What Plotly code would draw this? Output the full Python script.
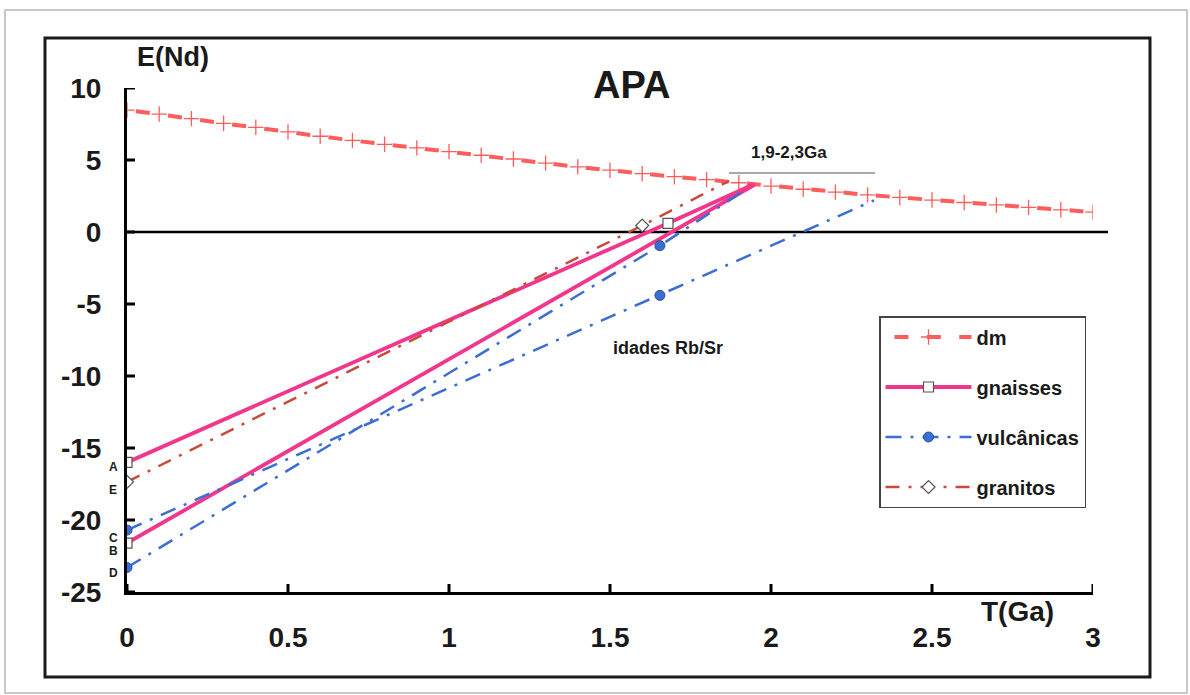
import plotly.graph_objects as go

W, H = 1190, 695

# ---------------- data ----------------
T_dm = [0.0, 0.1, 0.2, 0.3, 0.4, 0.5, 0.6, 0.7, 0.8, 0.9, 1.0, 1.1, 1.2, 1.3, 1.4, 1.5,
        1.6, 1.7, 1.8, 1.9, 2.0, 2.1, 2.2, 2.3, 2.4, 2.5, 2.6, 2.7, 2.8, 2.9, 3.0]
E_dm = [8.47, 8.19, 7.87, 7.55, 7.27, 6.95, 6.65, 6.36, 6.09, 5.84, 5.58, 5.33, 5.07, 4.78,
        4.52, 4.29, 4.05, 3.84, 3.64, 3.42, 3.19, 2.97, 2.77, 2.58, 2.40, 2.22, 2.05, 1.88,
        1.71, 1.54, 1.38]

# gnaisses (A and B)
T_gn_A = [0.0, 1.68, 1.945]
E_gn_A = [-16.0, 0.6, 3.3]
T_gn_B = [0.0, 1.95]
E_gn_B = [-21.6, 3.3]

# vulcanicas (C and D)
T_vu_C = [0.0, 1.655, 2.32]
E_vu_C = [-20.7, -4.4, 2.2]
T_vu_D = [0.0, 1.655, 1.915]
E_vu_D = [-23.3, -0.95, 2.85]

# granitos (E)
T_gr_E = [0.0, 1.6, 1.87]
E_gr_E = [-17.35, 0.45, 3.55]

sample_letters = ["A", "E", "C", "B", "D"]
letter_pos = [-16.35, -17.95, -21.25, -22.15, -23.65]

x_ticks = [0, 0.5, 1, 1.5, 2, 2.5, 3]
x_tick_text = ["0", "0.5", "1", "1.5", "2", "2.5", "3"]
y_ticks = [10, 5, 0, -5, -10, -15, -20, -25]
y_tick_text = ["10", "5", "0", "-5", "-10", "-15", "-20", "-25"]

# ---------------- styles ----------------
FONT = "Liberation Sans, Arial, sans-serif"
C_DM = "#ff5c5c"
C_GN = "#f2368c"
C_VU = "#3a6ed2"
C_GR = "#c94a3c"
CLEAR = "rgba(0,0,0,0)"

X0, X1 = 127, 1093   # pixel positions of x=0 and x=3
Y0, Y1 = 592, 88     # pixel positions of y=-25 and y=10


def px(x):
    return x / W


def py(y):
    return (H - y) / H


fig = go.Figure()

# dm
fig.add_trace(go.Scatter(
    x=T_dm, y=E_dm, mode="lines+markers", name="<b>dm</b>", legendgroup="dm",
    line=dict(color=C_DM, width=4, dash="0px,9px,14px,9.38px"),
    marker=dict(symbol="cross-thin", size=11, line=dict(color=C_DM, width=1.3)),
))


def marked(n_marked, n_total, col):
    return [col] * n_marked + [CLEAR] * (n_total - n_marked)


# gnaisses
fig.add_trace(go.Scatter(
    x=T_gn_A, y=E_gn_A, mode="lines+markers", name="<b>gnaisses</b>", legendgroup="gn",
    line=dict(color=C_GN, width=3.8),
    marker=dict(symbol="square", size=10,
                color=marked(2, len(T_gn_A), "white"),
                line=dict(color=marked(2, len(T_gn_A), "#555555"), width=1.2)),
))
fig.add_trace(go.Scatter(
    x=T_gn_B, y=E_gn_B, mode="lines+markers", name="<b>gnaisses</b>", legendgroup="gn",
    showlegend=False,
    line=dict(color=C_GN, width=3.8),
    marker=dict(symbol="square", size=10,
                color=marked(1, len(T_gn_B), "white"),
                line=dict(color=marked(1, len(T_gn_B), "#555555"), width=1.2)),
))

# vulcanicas
VU_DASH = "16px,9px,3px,9px"
fig.add_trace(go.Scatter(
    x=T_vu_C, y=E_vu_C, mode="lines+markers", name="<b>vulcânicas</b>", legendgroup="vu",
    line=dict(color=C_VU, width=2.5, dash=VU_DASH),
    marker=dict(symbol="circle", size=10,
                color=marked(2, len(T_vu_C), C_VU),
                line=dict(color=marked(2, len(T_vu_C), "#284f9c"), width=1)),
))
fig.add_trace(go.Scatter(
    x=T_vu_D, y=E_vu_D, mode="lines+markers", name="<b>vulcânicas</b>", legendgroup="vu",
    showlegend=False,
    line=dict(color=C_VU, width=2.5, dash=VU_DASH),
    marker=dict(symbol="circle", size=10,
                color=marked(2, len(T_vu_D), C_VU),
                line=dict(color=marked(2, len(T_vu_D), "#284f9c"), width=1)),
))

# granitos
fig.add_trace(go.Scatter(
    x=T_gr_E, y=E_gr_E, mode="lines+markers", name="<b>granitos</b>", legendgroup="gr",
    line=dict(color=C_GR, width=2.5, dash="14px,9px,3px,9px"),
    marker=dict(symbol="diamond", size=10,
                color=marked(2, len(T_gr_E), "white"),
                line=dict(color=marked(2, len(T_gr_E), "#555555"), width=1.2)),
))

shapes = []
# zero line
shapes.append(dict(type="line", xref="paper", yref="y", x0=px(X0), x1=px(1108),
                   y0=0, y1=0, line=dict(color="black", width=2.5), layer="below"))
# crossing ticks on the y axis
for v in y_ticks:
    shapes.append(dict(type="line", xref="x", yref="y", xsizemode="pixel", xanchor=0,
                       x0=-8, x1=8, y0=v, y1=v, line=dict(color="black", width=3)))
# crossing ticks on the x axis
for v in x_ticks:
    shapes.append(dict(type="line", xref="x", yref="y", ysizemode="pixel", yanchor=-25,
                       y0=-8, y1=8, x0=v, x1=v, line=dict(color="black", width=3)))
# frames
shapes.append(dict(type="rect", xref="paper", yref="paper", x0=px(45), x1=px(1150),
                   y0=py(677), y1=py(38), line=dict(color="#1a1a1a", width=3)))
shapes.append(dict(type="rect", xref="paper", yref="paper", x0=px(5), x1=px(1187),
                   y0=py(693), y1=py(10), line=dict(color="#b8b8b8", width=1.5)))
# line under the 1,9-2,3Ga label
shapes.append(dict(type="line", xref="paper", yref="paper", x0=px(729), x1=px(875),
                   y0=py(173), y1=py(173), line=dict(color="#555555", width=1)))


def label(text, x, y, size):
    return dict(text="<b>%s</b>" % text, x=px(x), y=py(y), xref="paper", yref="paper",
                xanchor="center", yanchor="middle", showarrow=False,
                font=dict(size=size, color="#1a1a1a", family=FONT))


annotations = [
    label("APA", 631, 85, 38),
    label("E(Nd)", 173, 57, 27),
    label("T(Ga)", 1017, 611, 28),
    label("1,9-2,3Ga", 789, 152, 17),
    label("idades Rb/Sr", 668, 348, 18),
]
for lab, yv in zip(sample_letters, letter_pos):
    annotations.append(dict(text="<b>" + lab + "</b>", x=0, y=yv, xref="x", yref="y",
                            xshift=-14, xanchor="center", yanchor="middle", showarrow=False,
                            font=dict(size=12, color="#1a1a1a", family=FONT)))

fig.update_layout(
    width=W, height=H,
    margin=dict(l=0, r=0, t=0, b=0),
    paper_bgcolor="white", plot_bgcolor="white",
    font=dict(family=FONT, color="#1a1a1a"),
    xaxis=dict(domain=[px(X0), px(X1)], range=[0, 3], tickvals=x_ticks,
               ticktext=["<b>%s</b>" % t for t in x_tick_text],
               showgrid=False, zeroline=False, showline=True, linecolor="black",
               linewidth=3, ticks="", ticklabelstandoff=18,
               tickfont=dict(size=28, family=FONT, color="#1a1a1a"), automargin=False),
    yaxis=dict(domain=[py(Y0), py(Y1)], range=[-25, 10], tickvals=y_ticks,
               ticktext=["<b>%s</b>" % t for t in y_tick_text],
               showgrid=False, zeroline=False, showline=True, linecolor="black",
               linewidth=3, ticks="", ticklabelstandoff=17,
               tickfont=dict(size=28, family=FONT, color="#1a1a1a"), automargin=False),
    showlegend=True,
    legend=dict(x=px(879), y=py(316), xanchor="left", yanchor="top",
                bgcolor="white", bordercolor="#444444", borderwidth=1.5,
                font=dict(size=20, family=FONT, color="#1a1a1a"),
                itemwidth=86, tracegroupgap=21, traceorder="grouped"),
    shapes=shapes,
    annotations=annotations,
)

fig.write_html("out.html")
